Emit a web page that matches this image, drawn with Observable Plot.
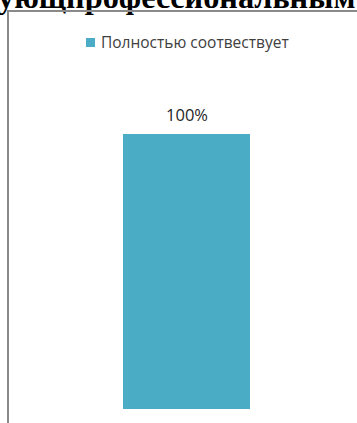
<!DOCTYPE html>
<html>
<head>
<meta charset="utf-8">
<script src="https://cdn.jsdelivr.net/npm/d3@7"></script>
<script src="https://cdn.jsdelivr.net/npm/@observablehq/plot@0.6"></script>
<style>
  html, body { margin: 0; padding: 0; background: #fff; width: 357px; height: 423px; overflow: hidden; }
  #wrap { position: relative; width: 357px; height: 423px; overflow: hidden; }
  #title { position: absolute; left: -2px; top: -19px; white-space: nowrap;
           font-family: "Liberation Serif", "DejaVu Serif", serif; font-weight: bold;
           font-size: 32.3px; color: #000; line-height: 1; }
  #frame { position: absolute; left: 7px; top: 10px; width: 360px; height: 420px;
           border-left: 2px solid #8a8a8a; border-top: 2px solid #8a8a8a; box-sizing: border-box; }
  #legend { position: absolute; top: 31px; left: 86px; white-space: nowrap;
            font-family: "Open Sans", "Liberation Sans", sans-serif; font-size: 15.5px; color: #404040;
            display: flex; align-items: center; }
  #legend .sw { display: inline-block; width: 9px; height: 9px; margin-right: 6px; }
  #chart { position: absolute; left: 0; top: 0; }
</style>
</head>
<body>
<div id="wrap">
  <div id="title"></div>
  <div id="frame"></div>
  <div id="legend"></div>
  <div id="chart"></div>
</div>
<script>
const titleText = "ующпрофессиональным";
const categories = ["Полностью соотвествует"];
const values = [1.0];
const labels = ["100%"];
const barColor = "#4BACC6";

const data = categories.map((c, i) => ({category: c, value: values[i], label: labels[i]}));

document.getElementById("title").textContent = titleText;
const lg = document.getElementById("legend");
categories.forEach(c => {
  const sw = document.createElement("span"); sw.className = "sw"; sw.style.background = barColor;
  const t = document.createElement("span"); t.textContent = c;
  lg.appendChild(sw); lg.appendChild(t);
});

const chart = Plot.plot({
  width: 357,
  height: 423,
  marginLeft: 123,
  marginRight: 107,
  marginTop: 134,
  marginBottom: 14,
  style: {background: "transparent", overflow: "visible"},
  x: {domain: categories, padding: 0, axis: null},
  y: {domain: [0, 1], axis: null},
  marks: [
    Plot.barY(data, {x: "category", y: "value", fill: barColor}),
    Plot.text(data, {x: "category", y: "value", text: "label", dy: -19,
      fontSize: 16.5, fill: "#262626", fontFamily: "Open Sans, Liberation Sans, sans-serif"})
  ]
});
document.getElementById("chart").appendChild(chart);
</script>
</body>
</html>
